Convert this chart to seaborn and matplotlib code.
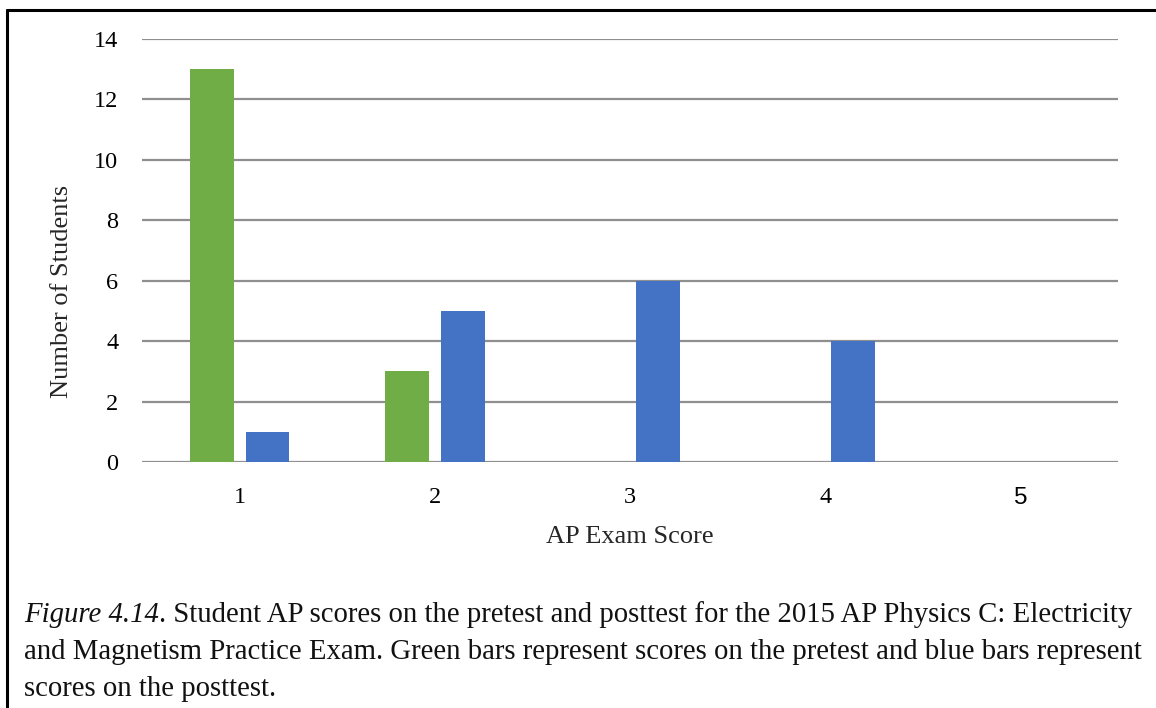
import numpy as np
import pandas as pd
import matplotlib
matplotlib.use('Agg')
import matplotlib.pyplot as plt
import seaborn as sns

# 数据
scores = ['1', '2', '3', '4', '5']
pretest = [13, 3, 0, 0, 0]
posttest = [1, 5, 6, 4, 0]
test_names = ['Pretest', 'Posttest']
bar_colors = ['#70AD47', '#4472C4']

caption_italic = 'Figure 4.14'
caption_lines = ['. Student AP scores on the pretest and posttest for the 2015 AP Physics C: Electricity',
                 'and Magnetism Practice Exam. Green bars represent scores on the pretest and blue bars represent',
                 'scores on the posttest.']

Datas = pd.DataFrame({
    'score': scores * 2,
    'count': pretest + posttest,
    'test': [test_names[0]] * len(scores) + [test_names[1]] * len(scores),
})

sns.set_style('white')
plt.rcParams['font.family'] = ['Liberation Serif', 'DejaVu Serif']

fig = plt.figure(figsize=(11.56, 7.08), dpi=100)
ax = fig.add_axes([0.1228, 0.3475, 0.8443, 0.5975])

sns.barplot(data=Datas, x='score', y='count', hue='test', order=scores,
            hue_order=test_names, palette=bar_colors, width=0.573, gap=0.214,
            saturation=1, linewidth=0, legend=False, ax=ax)

ax.set_ylim(0, 14)
ax.set_xlim(-0.5, 4.5)
ax.set_yticks(np.arange(0, 15, 2))
ax.yaxis.grid(True, color='#8f8f8f', linewidth=1.6)
ax.set_axisbelow(True)
sns.despine(ax=ax, left=True, bottom=True)
ax.tick_params(axis='both', length=0, labelsize=17.5, colors='black')
ax.tick_params(axis='y', pad=17)
ax.tick_params(axis='x', pad=18)
ax.set_xlabel('AP Exam Score', fontsize=19, labelpad=12)
ax.set_ylabel('Number of Students', fontsize=19)
# Excel里纵轴标题略偏下
ax.yaxis.set_label_coords(-0.071, 0.404)
# 最后一个刻度标签原图为无衬线字体
ax.get_xticklabels()[-1].set_fontfamily('Liberation Sans')

# 边框线
fig.add_artist(plt.Line2D([7 / 1156, 1.0], [1 - 10 / 708] * 2, color='black', lw=2.2))
fig.add_artist(plt.Line2D([7 / 1156] * 2, [0, 1 - 10 / 708], color='black', lw=2.2))

# 图注
cap_size = 20.7
t1 = fig.text(24 / 1156, 1 - 615 / 708, caption_italic, style='italic',
              fontsize=cap_size, va='center', ha='left', color='#111111')
ax.annotate(caption_lines[0], xy=(1, 0), xycoords=t1, va='bottom', ha='left',
            fontsize=cap_size, color='#111111', annotation_clip=False)
fig.text(24 / 1156, 1 - 652 / 708, caption_lines[1], fontsize=cap_size,
         va='center', ha='left', color='#111111')
fig.text(24 / 1156, 1 - 689 / 708, caption_lines[2], fontsize=cap_size,
         va='center', ha='left', color='#111111')

fig.savefig('out.png', dpi=100)
